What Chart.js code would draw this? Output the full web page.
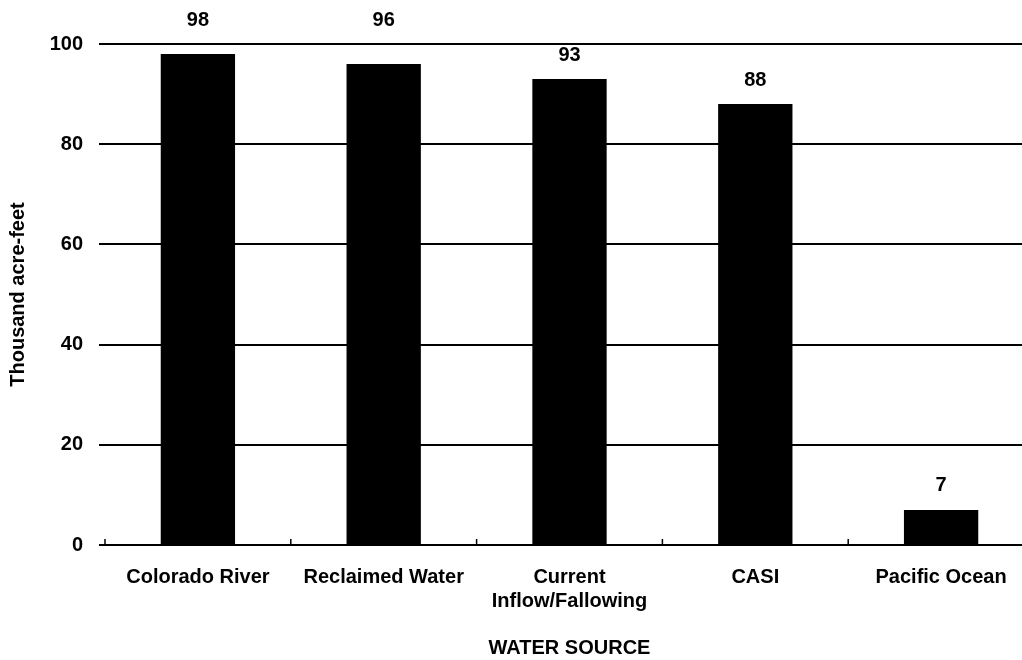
<!DOCTYPE html>
<html>
<head>
<meta charset="utf-8">
<script src="https://cdn.jsdelivr.net/npm/chart.js@4"></script>
<style>
  html, body { margin: 0; background: #fff; overflow: hidden; }
  #wrap { width: 1034px; height: 660px; }
</style>
</head>
<body>
<div id="wrap"><canvas id="waterChart" width="1034" height="660"></canvas></div>
<script>
const sources = ['Colorado River', 'Reclaimed Water', ['Current', 'Inflow/Fallowing'], 'CASI', 'Pacific Ocean'];
const volumes = [98, 96, 93, 88, 7];
const yTicks = [0, 20, 40, 60, 80, 100];

const fontFamily = '"Liberation Sans", Arial, sans-serif';
const mainFont = { family: fontFamily, size: 20, weight: 'bold' };

// value labels above each bar, lifted over the top gridline when they would touch it
const valueLabels = {
  id: 'valueLabels',
  afterDatasetsDraw(chart) {
    const ctx = chart.ctx;
    const meta = chart.getDatasetMeta(0);
    const top = chart.chartArea.top;
    ctx.save();
    ctx.fillStyle = '#000';
    ctx.font = 'bold 20px ' + fontFamily;
    ctx.textAlign = 'center';
    ctx.textBaseline = 'middle';
    meta.data.forEach((bar, i) => {
      let y = bar.y - 24;
      if (y < top + 8) y = top - 24;
      ctx.fillText(String(volumes[i]), bar.x, y);
    });
    ctx.restore();
  }
};

// small upward tick marks on the x axis between categories
const categoryTicks = {
  id: 'categoryTicks',
  afterDraw(chart) {
    const ctx = chart.ctx;
    const x = chart.scales.x;
    const half = (x.getPixelForValue(1) - x.getPixelForValue(0)) / 2;
    const base = chart.chartArea.bottom;
    ctx.save();
    ctx.strokeStyle = '#000';
    ctx.lineWidth = 1.5;
    for (let i = 0; i < sources.length; i++) {
      const px = x.getPixelForValue(i) - half;
      ctx.beginPath();
      ctx.moveTo(px, base);
      ctx.lineTo(px, base - 6);
      ctx.stroke();
    }
    ctx.restore();
  }
};

new Chart(document.getElementById('waterChart').getContext('2d'), {
  type: 'bar',
  data: {
    labels: sources,
    datasets: [{
      data: volumes,
      backgroundColor: '#000',
      borderWidth: 0,
      barPercentage: 0.4,
      categoryPercentage: 1.0
    }]
  },
  options: {
    responsive: false,
    animation: false,
    layout: { padding: { top: 44, right: 0, bottom: 0, left: 0 } },
    plugins: {
      legend: { display: false },
      tooltip: { enabled: false }
    },
    scales: {
      x: {
        afterFit: scale => { scale.height = 115; },
        grid: { display: false, drawTicks: false },
        border: { display: true, color: '#000', width: 2 },
        ticks: { color: '#000', font: mainFont, padding: 20, maxRotation: 0, autoSkip: false },
        title: {
          display: true,
          text: 'WATER SOURCE',
          color: '#000',
          font: mainFont,
          padding: { top: 0, bottom: 0 }
        }
      },
      y: {
        min: 0,
        max: 100,
        afterFit: scale => { scale.width = 105; },
        afterBuildTicks: scale => { scale.ticks = yTicks.map(v => ({ value: v })); },
        grid: { color: '#000', lineWidth: 2, drawTicks: true, tickLength: 6 },
        border: { display: false },
        ticks: { color: '#000', font: mainFont, padding: 16 },
        title: {
          display: true,
          text: 'Thousand acre-feet',
          color: '#000',
          font: mainFont,
          padding: { top: 6, bottom: 0 }
        }
      }
    }
  },
  plugins: [valueLabels, categoryTicks]
});
</script>
</body>
</html>
